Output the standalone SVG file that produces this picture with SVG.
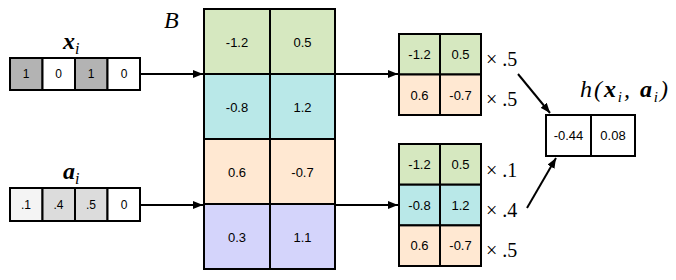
<svg xmlns="http://www.w3.org/2000/svg" width="676" height="280" viewBox="0 0 676 280">
<defs>
<marker id="ah" viewBox="0 0 10 8" refX="10" refY="4" markerWidth="10" markerHeight="8" markerUnits="userSpaceOnUse" orient="auto">
<path d="M0,0 L10,4 L0,8 z" fill="#000"/>
</marker>
<style>
rect{stroke:#000;stroke-width:2}
.t{font-family:"Liberation Sans",Arial,sans-serif;font-size:13px;text-anchor:middle;dominant-baseline:central;fill:#000}
.s{font-size:12px}
.m{font-family:"Liberation Serif","Times New Roman",serif;font-style:italic;font-size:24px;fill:#000}
.mb{font-weight:bold}
.x{font-family:"Liberation Serif","Times New Roman",serif;font-size:20px;fill:#000}
.g{fill:#d6e8c0}.c{fill:#b9e8e8}.o{fill:#ffe8d2}.p{fill:#d4d4fb}
.l{stroke:#000;stroke-width:2;fill:none}
</style>
</defs>
<g id="x_i">
<text class="m mb" x="63" y="49">x<tspan font-size="16" font-weight="normal" dy="5">i</tspan></text>
<rect x="10" y="58" width="32.5" height="32" fill="#b3b3b3"/>
<rect x="42.5" y="58" width="32.5" height="32" fill="#fff"/>
<rect x="75" y="58" width="32.5" height="32" fill="#b3b3b3"/>
<rect x="107.5" y="58" width="32.5" height="32" fill="#fff"/>
<text class="t s" x="26" y="74">1</text><text class="t s" x="58.5" y="74">0</text><text class="t s" x="91" y="74">1</text><text class="t s" x="124" y="74">0</text>
</g>
<g id="a_i">
<text class="m mb" x="63" y="179">a<tspan font-size="16" font-weight="normal" dy="5">i</tspan></text>
<rect x="10" y="188" width="32.5" height="33" fill="#f4f4f4"/>
<rect x="42.5" y="188" width="32.5" height="33" fill="#dcdcdc"/>
<rect x="75" y="188" width="32.5" height="33" fill="#dcdcdc"/>
<rect x="107.5" y="188" width="32.5" height="33" fill="#fff"/>
<text class="t s" x="26" y="205">.1</text><text class="t s" x="58.5" y="205">.4</text><text class="t s" x="91" y="205">.5</text><text class="t s" x="124" y="205">0</text>
</g>
<g id="B">
<text class="m" x="164" y="28">B</text>
<rect class="g" x="204" y="9" width="66" height="65"/><rect class="g" x="270" y="9" width="65" height="65"/>
<rect class="c" x="204" y="74" width="66" height="65"/><rect class="c" x="270" y="74" width="65" height="65"/>
<rect class="o" x="204" y="139" width="66" height="65"/><rect class="o" x="270" y="139" width="65" height="65"/>
<rect class="p" x="204" y="204" width="66" height="65"/><rect class="p" x="270" y="204" width="65" height="65"/>
<text class="t" x="237" y="42">-1.2</text><text class="t" x="302.5" y="42">0.5</text>
<text class="t" x="237" y="107">-0.8</text><text class="t" x="302.5" y="107">1.2</text>
<text class="t" x="237" y="172">0.6</text><text class="t" x="302.5" y="172">-0.7</text>
<text class="t" x="237" y="237">0.3</text><text class="t" x="302.5" y="237">1.1</text>
</g>
<g id="top_sel">
<rect class="g" x="399" y="34" width="41" height="40.5"/><rect class="g" x="440" y="34" width="41" height="40.5"/>
<rect class="o" x="399" y="74.5" width="41" height="40.5"/><rect class="o" x="440" y="74.5" width="41" height="40.5"/>
<text class="t" x="419.5" y="54">-1.2</text><text class="t" x="460.5" y="54">0.5</text>
<text class="t" x="419.5" y="95">0.6</text><text class="t" x="460.5" y="95">-0.7</text>
<text class="x" x="486" y="66">× .5</text>
<text class="x" x="486" y="106">× .5</text>
</g>
<g id="bot_sel">
<rect class="g" x="399" y="144" width="41" height="40.7"/><rect class="g" x="440" y="144" width="41" height="40.7"/>
<rect class="c" x="399" y="184.7" width="41" height="40.7"/><rect class="c" x="440" y="184.7" width="41" height="40.7"/>
<rect class="o" x="399" y="225.4" width="41" height="40.6"/><rect class="o" x="440" y="225.4" width="41" height="40.6"/>
<text class="t" x="419.5" y="164.5">-1.2</text><text class="t" x="460.5" y="164.5">0.5</text>
<text class="t" x="419.5" y="205">-0.8</text><text class="t" x="460.5" y="205">1.2</text>
<text class="t" x="419.5" y="245.5">0.6</text><text class="t" x="460.5" y="245.5">-0.7</text>
<text class="x" x="486" y="177">× .1</text>
<text class="x" x="486" y="217">× .4</text>
<text class="x" x="486" y="257">× .5</text>
</g>
<g id="h">
<text class="m" x="580" y="97" font-size="23" textLength="88" lengthAdjust="spacing">h(<tspan font-weight="bold">x</tspan><tspan font-size="15" dy="5">i</tspan><tspan dy="-5">, </tspan><tspan font-weight="bold">a</tspan><tspan font-size="15" dy="5">i</tspan><tspan dy="-5">)</tspan></text>
<rect x="546" y="115" width="45" height="41" fill="#fff"/><rect x="591" y="115" width="44" height="41" fill="#fff"/>
<text class="t" x="568.5" y="135.5">-0.44</text><text class="t" x="613" y="135.5">0.08</text>
</g>
<g id="connectors">
<line class="l" x1="140" y1="74" x2="203" y2="74" marker-end="url(#ah)"/>
<line class="l" x1="140" y1="205" x2="203" y2="205" marker-end="url(#ah)"/>
<line class="l" x1="335" y1="74" x2="398" y2="74" marker-end="url(#ah)"/>
<line class="l" x1="335" y1="205" x2="398" y2="205" marker-end="url(#ah)"/>
<line class="l" x1="518" y1="74" x2="550" y2="113" marker-end="url(#ah)"/>
<line class="l" x1="527" y1="208" x2="556" y2="158" marker-end="url(#ah)"/>
</g>
</svg>
